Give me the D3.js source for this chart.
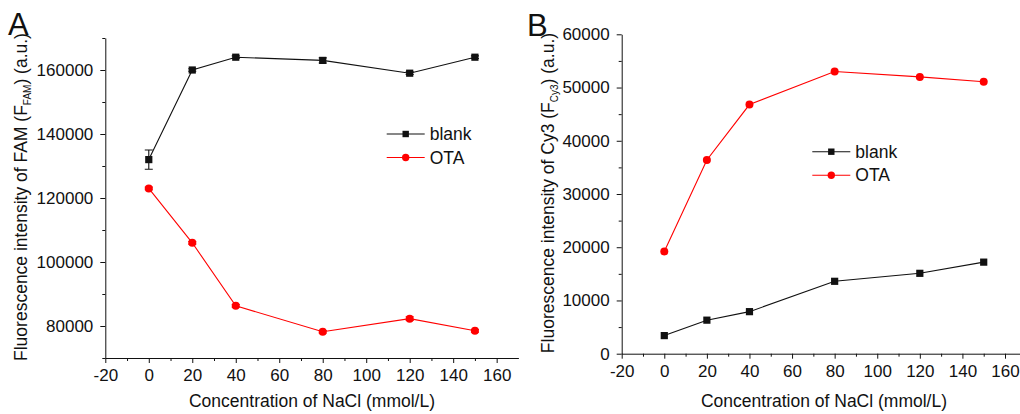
<!DOCTYPE html>
<html>
<head>
<meta charset="utf-8">
<script src="https://cdn.jsdelivr.net/npm/d3@7"></script>
<style>
  body { margin: 0; background: white; }
  svg text { font-family: 'Liberation Sans', Arial, sans-serif; fill: #111; }
</style>
</head>
<body>
<div id="chart"></div>
<script>
// NaCl concentration (mmol/L)
const nacl = [0, 20, 40, 80, 120, 150];
// panel A: FAM fluorescence
const famBlank = [132000, 160000, 164000, 163000, 159000, 164000];
const famBlankErr = [3000, 400, 400, 800, 400, 400];
const famOta = [123000, 106000, 86300, 78200, 82300, 78500];
const famOtaErr = [400, 400, 400, 400, 600, 400];
// panel B: Cy3 fluorescence
const cy3Blank = [3400, 6300, 7900, 13600, 15100, 17200];
const cy3Ota = [19200, 36400, 46800, 53000, 52000, 51100];
const xTicks = [-20, 0, 20, 40, 60, 80, 100, 120, 140, 160];
const famTicks = [80000, 100000, 120000, 140000, 160000];
const cy3Ticks = [0, 10000, 20000, 30000, 40000, 50000, 60000];
const seriesNames = ['blank', 'OTA'];

const svg = d3.select('#chart').append('svg')
    .attr('width', 1020)
    .attr('height', 414);

function drawPanel(cfg) {
    const x = d3.scaleLinear().domain([-20, 170]).range([cfg.left, cfg.right]);
    const y = d3.scaleLinear().domain(cfg.yDomain).range([cfg.bottom, cfg.top]);
    const g = svg.append('g');
    const plain = d => String(d);

    // minor ticks
    g.append('g')
        .attr('transform', 'translate(0,' + cfg.bottom + ')')
        .call(d3.axisBottom(x).tickValues(d3.range(-10, 170, 20)).tickSize(3).tickFormat(''))
        .call(a => a.select('.domain').remove());
    g.append('g')
        .attr('transform', 'translate(' + cfg.left + ',0)')
        .call(d3.axisLeft(y).tickValues(cfg.minor).tickSize(3).tickFormat(''))
        .call(a => a.select('.domain').remove());

    // major axes
    g.append('g')
        .attr('transform', 'translate(0,' + cfg.bottom + ')')
        .call(d3.axisBottom(x).tickValues(xTicks).tickSize(5).tickSizeOuter(0).tickPadding(6).tickFormat(plain));
    g.append('g')
        .attr('transform', 'translate(' + cfg.left + ',0)')
        .call(d3.axisLeft(y).tickValues(cfg.yTicks).tickSize(5).tickSizeOuter(0).tickPadding(7).tickFormat(plain));
    g.selectAll('.tick text').style('font-size', '17px').attr('fill', '#111');
    g.selectAll('.domain, .tick line').attr('stroke', '#111').attr('stroke-width', 1);

    // axis titles
    g.append('text')
        .attr('x', cfg.xTitleX)
        .attr('y', 407)
        .attr('text-anchor', 'middle')
        .style('font-size', '17.5px')
        .text('Concentration of NaCl (mmol/L)');

    const yt = g.append('text')
        .attr('transform', 'translate(' + cfg.yTitleX + ',' + cfg.yTitleY + ') rotate(-90)')
        .attr('text-anchor', 'middle')
        .style('font-size', '17.5px');
    yt.append('tspan').text('Fluorescence intensity of ' + cfg.dye + ' (F');
    yt.append('tspan').attr('dy', 4).style('font-size', '10px').text(cfg.sub);
    yt.append('tspan').attr('dy', -4).text(') (a.u.)');

    // panel letter
    g.append('text')
        .attr('x', cfg.letterX)
        .attr('y', cfg.letterY)
        .style('font-size', '31px')
        .text(cfg.letter);

    const line = d3.line().x(d => x(d[0])).y(d => y(d[1]));
    const colors = ['#111', '#ff0000'];

    cfg.series.forEach(function (vals, si) {
        const pts = nacl.map((n, i) => [n, vals[i]]);
        g.append('path')
            .datum(pts)
            .attr('d', line)
            .attr('fill', 'none')
            .attr('stroke', colors[si])
            .attr('stroke-width', 1.1);
        const errs = cfg.errs[si];
        if (errs) {
            pts.forEach(function (p, i) {
                const e = errs[i];
                const cx = x(p[0]);
                g.append('path')
                    .attr('d', 'M' + cx + ',' + y(p[1] - e) + 'V' + y(p[1] + e) +
                        'M' + (cx - 4) + ',' + y(p[1] - e) + 'h8' +
                        'M' + (cx - 4) + ',' + y(p[1] + e) + 'h8')
                    .attr('stroke', colors[si])
                    .attr('stroke-width', 1.1)
                    .attr('fill', 'none');
            });
        }
        pts.forEach(function (p) {
            if (si === 0) {
                g.append('rect')
                    .attr('x', x(p[0]) - 3.6).attr('y', y(p[1]) - 3.6)
                    .attr('width', 7.2).attr('height', 7.2)
                    .attr('fill', colors[si]);
            } else {
                g.append('circle')
                    .attr('cx', x(p[0])).attr('cy', y(p[1]))
                    .attr('r', 4)
                    .attr('fill', colors[si]);
            }
        });
    });

    // legend
    seriesNames.forEach(function (name, i) {
        const ly = cfg.legendY + i * 23.5;
        const lx = cfg.legendX;
        g.append('line')
            .attr('x1', lx).attr('x2', lx + 38)
            .attr('y1', ly).attr('y2', ly)
            .attr('stroke', colors[i]).attr('stroke-width', 1.1);
        if (i === 0) {
            g.append('rect').attr('x', lx + 19 - 3.2).attr('y', ly - 3.2)
                .attr('width', 6.4).attr('height', 6.4).attr('fill', colors[i]);
        } else {
            g.append('circle').attr('cx', lx + 19).attr('cy', ly).attr('r', 3.7).attr('fill', colors[i]);
        }
        g.append('text')
            .attr('x', lx + 43)
            .attr('y', ly + 6)
            .style('font-size', '17.5px')
            .text(name);
    });
}

drawPanel({
    left: 105.3, right: 518.4, top: 38, bottom: 358,
    yDomain: [70000, 170000], yTicks: famTicks,
    minor: d3.range(70000, 170001, 10000).filter(v => famTicks.indexOf(v) < 0),
    series: [famBlank, famOta], errs: [famBlankErr, famOtaErr],
    dye: 'FAM', sub: 'FAM', letter: 'A', letterX: 8, letterY: 35,
    xTitleX: 312, yTitleX: 27, yTitleY: 197,
    legendX: 386.7, legendY: 134
});

drawPanel({
    left: 621.7, right: 1026.3, top: 34.3, bottom: 353.7,
    yDomain: [0, 60000], yTicks: cy3Ticks,
    minor: d3.range(5000, 60000, 10000),
    series: [cy3Blank, cy3Ota], errs: [null, null],
    dye: 'Cy3', sub: 'Cy3', letter: 'B', letterX: 527, letterY: 36,
    xTitleX: 824, yTitleX: 554, yTitleY: 193,
    legendX: 812.3, legendY: 151.7
});
</script>
</body>
</html>
